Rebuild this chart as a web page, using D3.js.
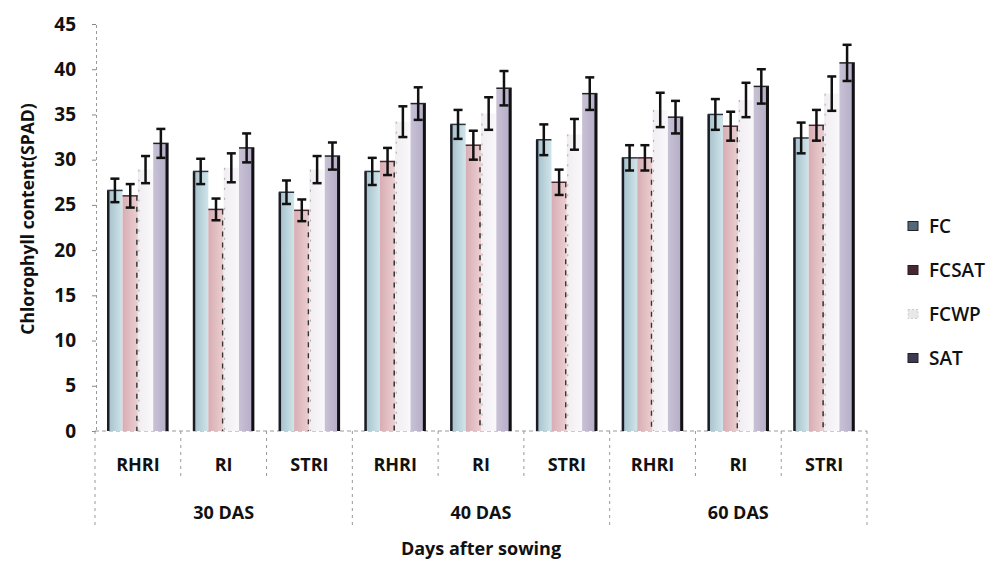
<!DOCTYPE html>
<html lang="en">
<head><meta charset="utf-8"/>
<style>
body { margin:0; background:#fff; }
text { font-family: "Open Sans", sans-serif; font-weight:700; fill:#111; }
</style>
</head>
<body>
<svg id="chart" width="999" height="562"></svg>

<script src="https://cdn.jsdelivr.net/npm/d3@7"></script>
<script>

var groups = ["30 DAS", "40 DAS", "60 DAS"];
var treatments = ["RHRI", "RI", "STRI"];
var series = ["FC", "FCSAT", "FCWP", "SAT"];
var yTicks = [0, 5, 10, 15, 20, 25, 30, 35, 40, 45];

// values in category order: 30 DAS (RHRI,RI,STRI), 40 DAS (...), 60 DAS (...)
var FC    = [26.6, 28.7, 26.4, 28.7, 33.9, 32.2, 30.2, 35.0, 32.4];
var FCSAT = [26.0, 24.5, 24.4, 29.8, 31.6, 27.5, 30.2, 33.7, 33.8];
var FCWP  = [28.9, 29.1, 28.9, 34.2, 35.1, 32.8, 35.5, 36.6, 37.3];
var SAT   = [31.8, 31.3, 30.4, 36.2, 37.9, 37.3, 34.7, 38.1, 40.7];

var FC_err    = [1.3, 1.4, 1.3, 1.5, 1.6, 1.7, 1.4, 1.7, 1.7];
var FCSAT_err = [1.3, 1.2, 1.2, 1.5, 1.6, 1.4, 1.4, 1.6, 1.7];
var FCWP_err  = [1.5, 1.6, 1.5, 1.7, 1.8, 1.7, 1.9, 1.9, 1.9];
var SAT_err   = [1.6, 1.6, 1.5, 1.8, 1.9, 1.8, 1.8, 1.9, 2.0];

var values = {FC: FC, FCSAT: FCSAT, FCWP: FCWP, SAT: SAT};
var errors = {FC: FC_err, FCSAT: FCSAT_err, FCWP: FCWP_err, SAT: SAT_err};

var fills = {
	FC:    ["#a3bec9", "#d0e5ea"],
	FCSAT: ["#d8adb3", "#ebcfd1"],
	FCWP:  ["#f1edf1", "#faf8fa"],
	SAT:   ["#c9c2d6", "#b3a9c5"]
};
var legendFill = {FC: "#55687a", FCSAT: "#4a2630", FCWP: "#e8e8e8", SAT: "#3c3a52"};

var svg = d3.select("#chart");
var defs = svg.append("defs");
series.forEach(function(s){
	var gr = defs.append("linearGradient").attr("id", "g_" + s)
		.attr("x1", "0%").attr("x2", "100%").attr("y1", "0%").attr("y2", "0%");
	gr.append("stop").attr("offset", "0%").attr("stop-color", fills[s][0]);
	gr.append("stop").attr("offset", "100%").attr("stop-color", fills[s][1]);
});

var cats = [];
groups.forEach(function(g){ treatments.forEach(function(t){ cats.push(g + "|" + t); }); });

var x = d3.scaleBand().domain(cats).range([95, 867]).padding(0);
var x1 = d3.scaleBand().domain(series).range([0, x.bandwidth()]).paddingInner(0).paddingOuter(0.8);
var y = d3.scaleLinear().domain([0, 45]).range([431, 24]);

// y axis
var yAxis = svg.append("g")
	.attr("transform", "translate(96,0)")
	.call(d3.axisLeft(y).tickValues(yTicks).tickSize(4).tickPadding(16));
yAxis.select(".domain").attr("stroke", "#999").attr("stroke-dasharray", "3,3");
yAxis.selectAll(".tick line").attr("stroke", "#888");
yAxis.selectAll("text").style("font-size", "19px").style("font-family", "Open Sans").style("font-weight", "700").attr("fill", "#111");

// x axis baseline
svg.append("line").attr("x1", 95).attr("x2", 867).attr("y1", y(0)).attr("y2", y(0))
	.attr("stroke", "#999").attr("stroke-dasharray", "4,3");

// bars
var cg = svg.append("g").selectAll("g").data(cats).enter().append("g")
	.attr("transform", d => "translate(" + x(d) + ",0)");

cg.each(function(c, i){
	var g = d3.select(this);
	series.forEach(function(s){
		var v = values[s][i], e = errors[s][i];
		var bx = x1(s), bw = x1.bandwidth();
		g.append("rect")
			.attr("x", bx).attr("y", y(v))
			.attr("width", bw).attr("height", y(0) - y(v))
			.attr("fill", "url(#g_" + s + ")");
		if(s == "FC"){
			g.append("line").attr("x1", bx + 1).attr("x2", bx + 1).attr("y1", y(v)).attr("y2", y(0))
				.attr("stroke", "#1c1c24").attr("stroke-width", 2.5);
			g.append("line").attr("x1", bx).attr("x2", bx + bw).attr("y1", y(v)).attr("y2", y(v))
				.attr("stroke", "#2a3440").attr("stroke-width", 1.5);
		}
		if(s == "FCSAT"){
			g.append("line").attr("x1", bx + bw - 1).attr("x2", bx + bw - 1).attr("y1", y(v)).attr("y2", y(0))
				.attr("stroke", "#333").attr("stroke-width", 1.5).attr("stroke-dasharray", "5,6");
			g.append("line").attr("x1", bx).attr("x2", bx + bw).attr("y1", y(v)).attr("y2", y(v))
				.attr("stroke", "#4a2630").attr("stroke-width", 1.5);
		}
		if(s == "FCWP"){
			g.append("line").attr("x1", bx + 1).attr("x2", bx + 1).attr("y1", y(v)).attr("y2", y(0))
				.attr("stroke", "#aaa").attr("stroke-width", 1).attr("stroke-dasharray", "2,8");
		}
		if(s == "SAT"){
			g.append("line").attr("x1", bx + bw - 1.5).attr("x2", bx + bw - 1.5).attr("y1", y(v)).attr("y2", y(0))
				.attr("stroke", "#111").attr("stroke-width", 3);
			g.append("line").attr("x1", bx).attr("x2", bx + bw).attr("y1", y(v)).attr("y2", y(v))
				.attr("stroke", "#222").attr("stroke-width", 1.5);
		}
		// error bar
		var cx = bx + bw / 2;
		g.append("line").attr("x1", cx).attr("x2", cx).attr("y1", y(v + e)).attr("y2", y(v - e))
			.attr("stroke", "#111").attr("stroke-width", 2.5);
		[v + e, v - e].forEach(function(t){
			g.append("line").attr("x1", cx - 4.5).attr("x2", cx + 4.5).attr("y1", y(t)).attr("y2", y(t))
				.attr("stroke", "#111").attr("stroke-width", 2.5);
		});
	});
});

// category separators and labels
var seps = svg.append("g");
cats.forEach(function(c, i){
	var long = (i % 3 == 0);
	seps.append("line").attr("x1", x(c)).attr("x2", x(c)).attr("y1", y(0)).attr("y2", long ? 527 : 479)
		.attr("stroke", "#999").attr("stroke-dasharray", "3,4");
	seps.append("text").attr("x", x(c) + x.bandwidth() / 2).attr("y", 464)
		.attr("text-anchor", "middle").attr("dominant-baseline", "central")
		.style("font-size", "18px").text(c.split("|")[1]);
});
seps.append("line").attr("x1", 867).attr("x2", 867).attr("y1", y(0)).attr("y2", 527)
	.attr("stroke", "#999").attr("stroke-dasharray", "3,4");

groups.forEach(function(g){
	var first = x(g + "|" + treatments[0]);
	var last = x(g + "|" + treatments[2]) + x.bandwidth();
	svg.append("text").attr("x", (first + last) / 2).attr("y", 512)
		.attr("text-anchor", "middle").attr("dominant-baseline", "central")
		.style("font-size", "18px").text(g);
});

// axis titles
svg.append("text").attr("x", 481).attr("y", 548)
	.attr("text-anchor", "middle").attr("dominant-baseline", "central")
	.style("font-size", "18px").text("Days after sowing");
svg.append("text").attr("transform", "translate(27,219) rotate(-90)")
	.attr("text-anchor", "middle").attr("dominant-baseline", "central")
	.style("font-size", "17.5px").text("Chlorophyll content(SPAD)");

// legend
var lg = svg.append("g").attr("transform", "translate(908,0)");
series.forEach(function(s, i){
	var ly = 226 + i * 44;
	lg.append("rect").attr("x", 0).attr("y", ly - 4.5).attr("width", 10).attr("height", 9)
		.attr("fill", legendFill[s]).attr("stroke", s == "FCWP" ? "#ccc" : "#222")
		.attr("stroke-dasharray", s == "FCWP" ? "2,2" : null);
	lg.append("text").attr("x", 21).attr("y", ly).attr("dominant-baseline", "central")
		.style("font-size", "19px").style("font-weight", "600").text(s);
});

</script>
</body>
</html>
